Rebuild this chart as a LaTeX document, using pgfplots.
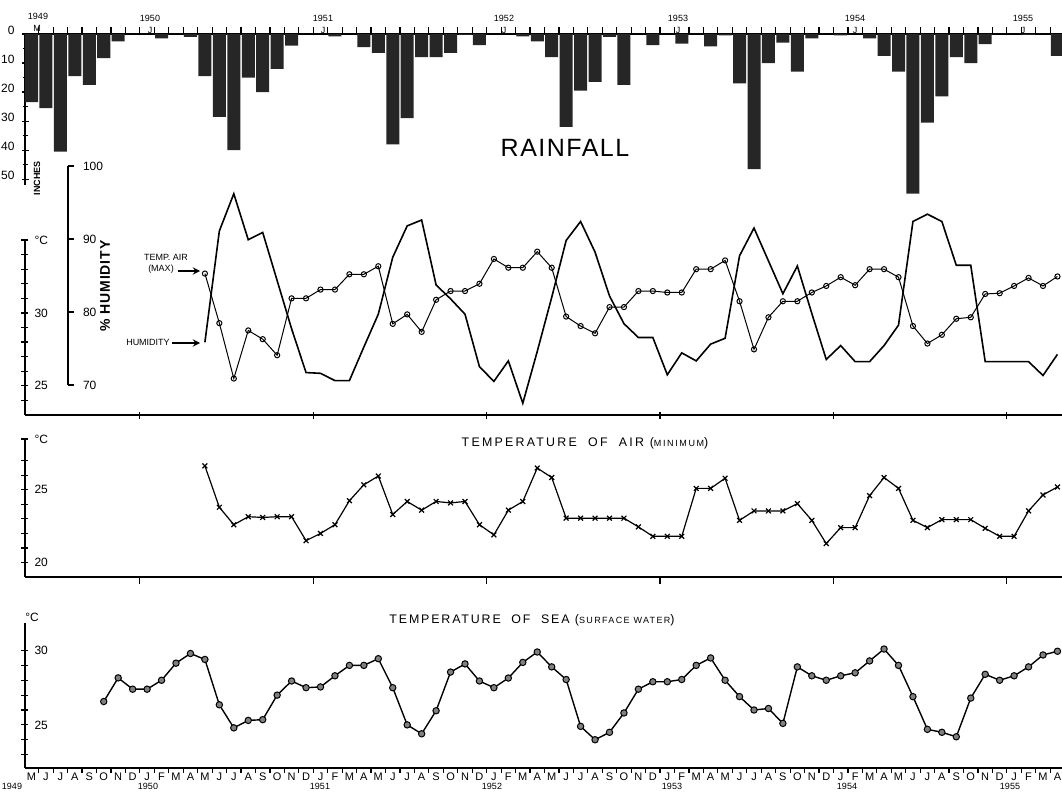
\documentclass[border=0pt]{standalone}
\usepackage{fontspec}
\setmainfont{Liberation Sans}
\usepackage{pgfplots}
\pgfplotsset{compat=1.18}
\usepackage{pgfplotstable}

\pgfplotstableread{
t r
0 23.5
1 25.5
2 40.5
3 14.5
4 17.5
5 8.3
6 2.5
7 0
8 0
9 1.5
10 0
11 1.0
12 14.5
13 28.5
14 40
15 15
16 20
17 12
18 4
19 0
20 0
21 0.8
22 0
23 4.5
24 6.5
25 38
26 29
27 8
28 8
29 6.5
30 0.3
31 3.8
32 0
33 0
34 0.8
35 2.5
36 8
37 32
38 19.5
39 16.5
40 1
41 17.5
42 0
43 3.8
44 0
45 3.3
46 0
47 4.3
48 0.5
49 17
50 46.5
51 10
52 3
53 13
54 1.5
55 0
56 0.5
57 0
58 1.5
59 7.5
60 13
61 55
62 30.5
63 21.5
64 8
65 10
66 3.5
67 0
68 0
69 0.3
70 0
71 7.5
}\rain

\pgfplotstableread{
t tmax hum
12 32.7 75.85
13 29.3 91.1
14 25.5 96.2
15 28.8 89.9
16 28.2 90.9
17 27.1 84.3
18 31.0 77.7
19 31.0 71.7
20 31.6 71.6
21 31.6 70.6
22 32.65 70.6
23 32.65 75.2
24 33.2 79.7
25 29.25 87.5
26 29.9 91.8
27 28.7 92.6
28 30.9 83.7
29 31.5 81.8
30 31.5 79.7
31 32.0 72.5
32 33.7 70.5
33 33.1 73.3
34 33.1 67.5
35 34.2 74.6
36 33.1 82.0
37 29.75 89.8
38 29.1 92.4
39 28.6 88.2
40 30.4 82.2
41 30.4 78.4
42 31.5 76.5
43 31.5 76.5
44 31.4 71.4
45 31.4 74.4
46 33.0 73.3
47 33.0 75.6
48 33.6 76.4
49 30.8 87.7
50 27.5 91.5
51 29.7 87.0
52 30.8 82.5
53 30.8 86.3
54 31.4 79.8
55 31.85 73.5
56 32.45 75.4
57 31.9 73.2
58 33.0 73.2
59 33.0 75.4
60 32.45 78.2
61 29.1 92.4
62 27.9 93.4
63 28.5 92.4
64 29.6 86.4
65 29.7 86.4
66 31.3 73.2
67 31.35 73.2
68 31.85 73.2
69 32.4 73.2
70 31.85 71.3
71 32.5 74.2
}\maxhum

\pgfplotstableread{
t tmin
12 26.65
13 23.8
14 22.6
15 23.15
16 23.1
17 23.15
18 23.15
19 21.5
20 22.0
21 22.6
22 24.25
23 25.35
24 25.95
25 23.3
26 24.2
27 23.6
28 24.2
29 24.1
30 24.2
31 22.6
32 21.9
33 23.6
34 24.2
35 26.5
36 25.85
37 23.05
38 23.05
39 23.05
40 23.05
41 23.05
42 22.45
43 21.8
44 21.8
45 21.8
46 25.1
47 25.1
48 25.8
49 22.9
50 23.55
51 23.55
52 23.55
53 24.05
54 22.9
55 21.3
56 22.4
57 22.4
58 24.6
59 25.85
60 25.1
61 22.9
62 22.4
63 22.95
64 22.95
65 22.95
66 22.35
67 21.8
68 21.8
69 23.55
70 24.65
71 25.2
}\tmin

\pgfplotstableread{
t s
5 26.57
6 28.16
7 27.4
8 27.4
9 28.0
10 29.15
11 29.8
12 29.4
13 26.35
14 24.8
15 25.3
16 25.35
17 27.0
18 27.95
19 27.5
20 27.55
21 28.3
22 29.0
23 29.0
24 29.45
25 27.5
26 25.0
27 24.4
28 25.95
29 28.55
30 29.1
31 27.95
32 27.5
33 28.15
34 29.2
35 29.9
36 28.9
37 28.05
38 24.9
39 24.0
40 24.5
41 25.8
42 27.4
43 27.9
44 27.9
45 28.05
46 29.0
47 29.5
48 28.0
49 26.9
50 26.0
51 26.1
52 25.1
53 28.9
54 28.3
55 28.0
56 28.3
57 28.5
58 29.3
59 30.1
60 29.0
61 26.9
62 24.7
63 24.5
64 24.2
65 26.8
66 28.4
67 28.0
68 28.3
69 28.9
70 29.7
71 29.95
}\sea

\pgfplotsset{
  panel/.style={scale only axis, width=518.5pt, xmin=-0.4498, xmax=71.315, clip=false,
    tick style={black, line width=0.6pt},
    major tick length=3.5pt, minor tick length=2.5pt,
    tick label style={font=\fontsize{6}{6.5}\selectfont},
  },
  noarrows/.style={axis line style={-, line width=0.9pt},
    every outer x axis line/.append style={-},
    every outer y axis line/.append style={-},
    every inner x axis line/.append style={-},
    every inner y axis line/.append style={-}},
}
\newcommand{\sm}{\fontsize{6}{6.5}\selectfont}
\newcommand{\tn}{\fontsize{4.5}{5}\selectfont}

\begin{document}
\begin{tikzpicture}
\useasboundingbox (0,0) rectangle (531pt,-396pt);

% ---------- Rainfall ----------
\begin{axis}[panel, at={(12.5pt,-17pt)}, anchor=north west, height=75.5pt,
  ymin=-52, ymax=0, axis x line=top, axis y line=left,
  xtick={-0.5,0.5,...,70.5}, xticklabels={}, xtick align=outside,
  ytick={-50,-40,-30,-20,-10,0}, yticklabels={50,40,30,20,10,0},
  minor ytick={-45,-35,-25,-15,-5}, ytick align=center,
  yticklabel style={yshift=2pt}, noarrows]
\addplot[ybar, bar width=0.9, bar shift=0pt, fill=black!85, draw=none]
  table[x=t, y expr=-\thisrow{r}] {\rain};
\end{axis}

% ---------- Temp air max ----------
\begin{axis}[panel, at={(12.5pt,-120pt)}, anchor=north west, height=87.5pt,
  ymin=23, ymax=35, axis x line=bottom, axis y line=left,
  xtick={7.5,19.5,31.5,43.5,55.5,67.5}, xticklabels={}, xtick align=center,
  ytick={24,...,35}, yticklabels={,25,,,,,30,,,,,°C}, ytick align=center,
  yticklabel style={anchor=west, xshift=3pt}, noarrows]
\addplot[black, line width=0.5pt, mark=o, mark size=1.3pt,
  mark options={fill=white, line width=0.5pt}] table[x=t, y=tmax] {\maxhum};
\end{axis}

% ---------- Humidity ----------
\begin{axis}[scale only axis, at={(34pt,-83pt)}, anchor=north west,
  width=497pt, height=109.5pt, xmin=2.526, xmax=71.315, ymin=70, ymax=100,
  clip=false, axis x line=none, axis y line=left,
  tick style={black, line width=0.6pt},
  major tick length=3pt, ytick={70,80,90,100}, yticklabels={70,80,90,100},
  ytick align=inside,
  yticklabel style={anchor=west, xshift=4pt, font=\sm}, noarrows]
\addplot[black, line width=0.8pt] table[x=t, y=hum] {\maxhum};
\end{axis}

% ---------- Temp air min ----------
\begin{axis}[panel, at={(12.5pt,-219pt)}, anchor=north west, height=69.5pt,
  ymin=19, ymax=28.57, axis x line=bottom, axis y line=left,
  xtick={7.5,19.5,31.5,43.5,55.5,67.5}, xticklabels={}, xtick align=outside,
  ytick={20,21,22,23,24,25,26,27,28.5}, yticklabels={20,,,,,25,,,°C}, ytick align=center,
  yticklabel style={anchor=west, xshift=3pt}, noarrows]
\addplot[black, line width=0.6pt, mark=x, mark size=1.7pt,
  mark options={line width=0.6pt}] table[x=t, y=tmin] {\tmin};
\end{axis}

% ---------- Sea temperature ----------
\begin{axis}[panel, at={(12.5pt,-311.5pt)}, anchor=north west, height=72.5pt,
  ymin=22.1, ymax=31.85, axis x line=bottom, axis y line=left,
  xtick={0,...,71},
  xticklabels={M,J,J,A,S,O,N,D,
    J,F,M,A,M,J,J,A,S,O,N,D,J,F,M,A,M,J,J,A,S,O,N,D,
    J,F,M,A,M,J,J,A,S,O,N,D,J,F,M,A,M,J,J,A,S,O,N,D,
    J,F,M,A,M,J,J,A,S,O,N,D,J,F,M,A},
  major x tick style={draw=none},
  minor xtick={-0.5,0.5,...,70.5}, xtick align=outside,
  xticklabel style={yshift=4.5pt, font=\fontsize{5.5}{6}\selectfont},
  ytick={23,...,30}, yticklabels={,,25,,,,,30}, ytick align=center,
  yticklabel style={anchor=west, xshift=3pt}, noarrows]
\addplot[black, line width=0.7pt, mark=*, mark size=1.6pt,
  mark options={fill=black!50, draw=black, line width=0.5pt}] table[x=t, y=s] {\sea};
\end{axis}

% ---------- texts ----------
\node[font=\fontsize{12.5}{14}\selectfont\addfontfeature{LetterSpace=6}] at (282.5pt,-74pt) {RAINFALL};
\node[rotate=90, font=\fontsize{4.5}{5}\selectfont\bfseries] at (18.5pt,-89pt) {INCHES};
\node[rotate=90, font=\fontsize{7}{8}\selectfont\bfseries\addfontfeature{LetterSpace=6}] at (52.5pt,-143pt) {\% HUMIDITY};
\node[font=\tn] at (83pt,-128.5pt) {TEMP. AIR};
\node[font=\tn] at (80.5pt,-134.5pt) {(MAX)};
\draw[-stealth, line width=0.6pt] (89pt,-135.5pt) -- (100pt,-135.5pt);
\node[font=\tn] at (74pt,-171pt) {HUMIDITY};
\draw[-stealth, line width=0.6pt] (86pt,-171.5pt) -- (100pt,-171.5pt);
\node[font=\fontsize{6.2}{7}\selectfont\addfontfeature{LetterSpace=18}] at (292.5pt,-221.5pt)
  {TEMPERATURE\ \ OF\ \ AIR\ ({\tn MINIMUM})};
\node[font=\fontsize{6.2}{7}\selectfont\addfontfeature{LetterSpace=15}] at (266pt,-310pt)
  {TEMPERATURE\ \ OF\ \ SEA\ ({\tn SURFACE\ WATER})};
\node[font=\sm] at (16pt,-308.5pt) {°C};
% top year markers
\node[font=\tn] at (19pt,-8pt) {1949};
\node[font=\tn] at (18.5pt,-14pt) {M};
\foreach \xx/\yy in {75/1950, 161.5/1951, 252/1952, 339/1953, 427.5/1954, 511.5/1955}{
  \node[font=\tn] at (\xx pt,-9pt) {\yy};
  \node[font=\tn] at (\xx pt,-15pt) {J};
}
% bottom years
\foreach \xx/\yy in {6/1949, 74/1950, 160/1951, 246/1952, 336/1953, 423.5/1954, 505/1955}{
  \node[font=\tn] at (\xx pt,-393.2pt) {\yy};
}
\end{tikzpicture}
\end{document}
